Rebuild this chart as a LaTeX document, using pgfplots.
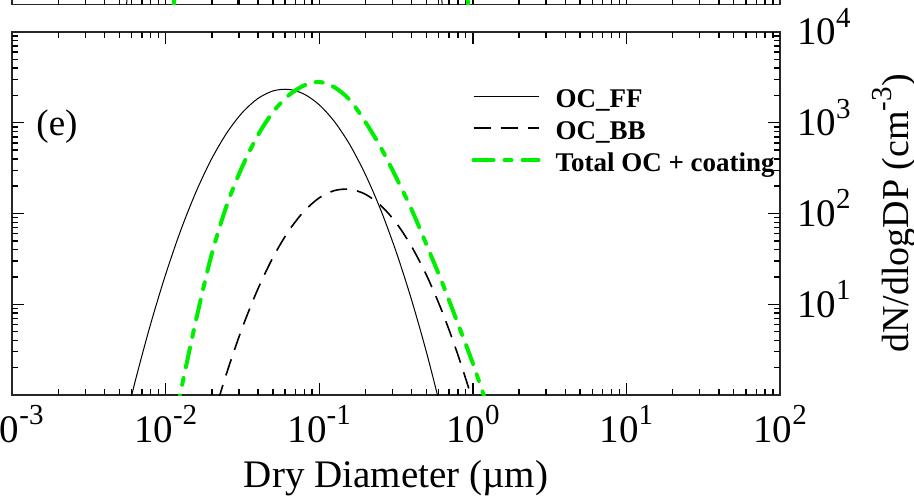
\documentclass[border=0pt]{standalone}
\usepackage{fontspec}
\setmainfont{Liberation Serif}
\usepackage{pgfplots}
\pgfplotsset{compat=1.18}

\definecolor{ocgreen}{RGB}{0,238,0}
\newcommand{\ex}[1]{\raisebox{0.45em}{\fontsize{14.5}{15}\selectfont #1}}

\pgfplotsset{
  panel/.style={
    scale only axis, width=384pt, height=181.5pt,
    anchor=south west,
    xmin=1e-3, xmax=1e2, ymin=1, ymax=1e4,
    xtick={1e-3,1e-2,1e-1,1,1e1,1e2},
    ytick={1,10,100,1000,10000},
    extra x ticks={2e-3,3e-3,4e-3,5e-3,6e-3,7e-3,8e-3,9e-3,
                   2e-2,3e-2,4e-2,5e-2,6e-2,7e-2,8e-2,9e-2,
                   0.2,0.3,0.4,0.5,0.6,0.7,0.8,0.9,
                   2,3,4,5,6,7,8,9,
                   20,30,40,50,60,70,80,90},
    extra y ticks={2,3,4,5,6,7,8,9,
                   20,30,40,50,60,70,80,90,
                   200,300,400,500,600,700,800,900,
                   2000,3000,4000,5000,6000,7000,8000,9000},
    extra x tick labels={}, extra y tick labels={},
    extra x tick style={major tick length=3pt},
    extra y tick style={major tick length=3pt},
    major tick length=6pt,
    tick pos=both, tick align=inside,
    axis line style={line width=0.9pt, black!85},
    tick style={line width=0.7pt, black},
  },
}

\begin{document}
\begin{tikzpicture}
% panel above, only its lower edge is in the frame
\begin{loglogaxis}[panel, at={(0pt,195.25pt)}, xticklabels={}, yticklabels={}]
  \addplot[black, line width=0.5pt] coordinates {(0.0054,0.5) (0.0065,30)};
  \addplot[black, line width=0.5pt] coordinates {(0.0285,0.5) (0.034,30)};
  \addplot[black, line width=0.5pt] coordinates {(0.55,30) (0.65,0.5)};
  \addplot[ocgreen, line width=2pt] coordinates {(0.011,0.5) (0.013,30)};
  \addplot[ocgreen, line width=2pt] coordinates {(0.80,30) (0.96,0.5)};
\end{loglogaxis}

\begin{loglogaxis}[panel, at={(0pt,0pt)},
  xticklabels={10\ex{-3},10\ex{-2},10\ex{-1},10\ex{0},10\ex{1},10\ex{2}},
  yticklabels={{},10\ex{1},10\ex{2},10\ex{3},10\ex{4}},
  yticklabel pos=right,
  xticklabel style={font=\fontsize{19.5}{22}\selectfont, anchor=base, yshift=-23.5pt},
  yticklabel style={font=\fontsize{19.5}{22}\selectfont, anchor=base west, xshift=5pt, yshift=-6.5pt},
  xlabel={Dry Diameter (µm)},
  xlabel style={font=\fontsize{19.5}{22}\selectfont, at={(rel axis cs:0.5,0)}, anchor=base, yshift=-46pt},
  ylabel={dN/dlogDP (cm\ex{-3})},
  ylabel style={font=\fontsize{19}{22}\selectfont, at={(rel axis cs:1.119,0.5)}, anchor=north, inner sep=0pt},
  legend style={draw=none, fill=none, at={(rel axis cs:0.590,0.86)}, anchor=north west,
    font=\fontsize{13.5}{16}\bfseries, row sep=0pt,
    nodes={inner sep=0pt, text height=10pt, text depth=6pt}},
  legend cell align=left,
  legend image code/.code={\draw[#1] (0pt,3.5pt) -- (32.5pt,3.5pt); \path (40pt,3.5pt);},
]
  \addplot[black, line width=0.5pt, smooth] coordinates {
    (0.0050119,0.276) (0.0063096,1.374) (0.0079433,5.848) (0.01,21.28)
    (0.012589,66.22) (0.015849,176.2) (0.019953,400.9) (0.025119,779.8)
    (0.031623,1297) (0.039811,1845) (0.050119,2244) (0.063096,2333)
    (0.079433,2075) (0.1,1578) (0.12589,1026) (0.15849,570.2)
    (0.19953,271.0) (0.25119,110.2) (0.31623,38.28) (0.39811,11.38)
    (0.50119,2.891) (0.63096,0.628)
  };
  \addlegendentry{OC\_FF}
  \addplot[black, line width=0.8pt, smooth, dash pattern=on 8.5pt off 5pt] coordinates {
    (0.015849,0.1178) (0.019953,0.4977) (0.025119,1.795) (0.031623,5.546)
    (0.039811,14.62) (0.050119,33.04) (0.063096,63.83) (0.079433,105.2)
    (0.1,148.6) (0.12589,179.1) (0.15849,184.9) (0.19953,163.3)
    (0.25119,123.0) (0.31623,79.43) (0.39811,43.75) (0.50119,20.65)
    (0.63096,8.337) (0.79433,2.871) (1.0,0.8472) (1.2589,0.2133)
  };
  \addlegendentry{OC\_BB}
  \addplot[ocgreen, line width=2pt, smooth, line cap=round,
    dash pattern=on 10pt off 5.5pt on 3.5pt off 5.5pt] coordinates {
    (0.01,0.1778) (0.012589,1.122) (0.015849,6.918) (0.019953,35.48)
    (0.025119,125.9) (0.031623,331.1) (0.039811,724.4) (0.050119,1318)
    (0.063096,1995) (0.079433,2570) (0.1,2818) (0.12589,2455)
    (0.15849,1778) (0.19953,1023) (0.25119,537.0) (0.31623,251.2)
    (0.39811,112.2) (0.50119,44.67) (0.63096,17.38) (0.79433,6.310)
    (1.0,2.239) (1.2589,0.7079)
  };
  \addlegendentry{Total OC + coating}
  \node[font=\fontsize{18.5}{20}\selectfont] at (rel axis cs:0.0586,0.738) {(e)};
\end{loglogaxis}

\pgfresetboundingbox
\path[use as bounding box] (-6pt,-50pt) rectangle (451pt,197.5pt);
\end{tikzpicture}
\end{document}
